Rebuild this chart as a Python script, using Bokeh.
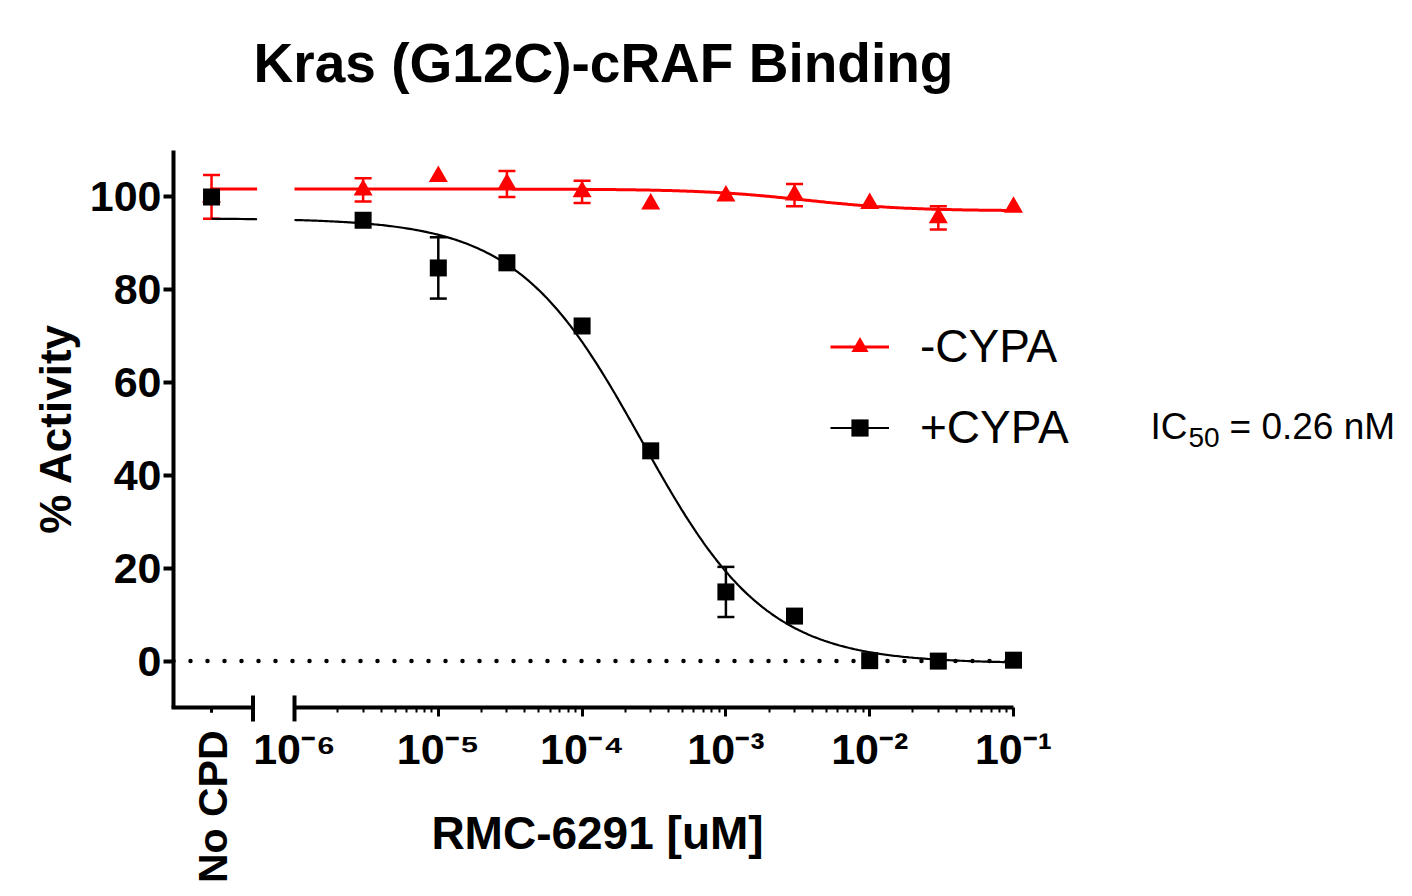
import numpy as np
from bokeh.plotting import figure
from bokeh.models import (FixedTicker, Whisker, TeeHead, ColumnDataSource,
                          Label, Legend, LegendItem)
from bokeh.embed import file_html
from bokeh.resources import INLINE

# ---------------- data ----------------
title_text = "Kras (G12C)-cRAF Binding"
x_label = "RMC-6291 [uM]"
y_label = "% Activity"
nocpd_label = "No CPD"

conc = [3e-6, 1e-5, 3e-5, 1e-4, 3e-4, 1e-3, 3e-3, 1e-2, 3e-2, 1e-1]
plus_cypa = [95.0, 84.7, 85.8, 72.2, 45.3, 14.9, 9.7, 0.1, 0.0, 0.2]
plus_err = [0.0, 6.6, 0.0, 0.0, 0.0, 5.4, 0.0, 0.0, 0.0, 0.0]
minus_cypa = [101.5, 104.4, 102.8, 101.1, 98.5, 100.2, 100.4, 98.6, 95.5, 97.8]
minus_err = [2.5, 0.0, 2.8, 2.4, 0.0, 0.0, 2.4, 0.0, 2.5, 0.0]
nocpd_plus = 100.0
nocpd_plus_err = 0.0
nocpd_minus = 100.0
nocpd_minus_err = 4.7

# four-parameter logistic fits
fit_plus = dict(top=95.4, bottom=-0.5, ic50=2.6e-4, hill=1.0)
fit_minus = dict(top=101.7, bottom=97.0, ic50=3.5e-3, hill=1.2)

x_ticks = [1e-6, 1e-5, 1e-4, 1e-3, 1e-2, 1e-1]
x_tick_labels = ["10\u207b\u2076", "10\u207b\u2075", "10\u207b\u2074",
                 "10\u207b\u00b3", "10\u207b\u00b2", "10\u207b\u00b9"]
y_ticks = [0, 20, 40, 60, 80, 100]
series_names = ["-CYPA", "+CYPA"]
ic50_text = ["IC", "50", "= 0.26 nM"]

# ---------------- layout constants ----------------
W, H = 1404, 888
RED = "#FF0000"
BLACK = "#000000"
FONT = "Liberation Sans"
X_RANGE = (10 ** -8.04451, 10 ** 1.71905)
Y_RANGE = (-48.99, 142.32)
Y_AXIS_POS = 10 ** -6.8415    # where the y axis crosses
NOCPD_POS = 10 ** -6.577      # plotting position of the "No CPD" group
BREAK_LEFT = 10 ** -6.2886    # end of the left axis segment
CURVE_STUB_END = 10 ** -6.26
Y_MIN, Y_MAX = -10, 110


def four_pl(x, top, bottom, ic50, hill):
    x = np.asarray(x, dtype=float)
    return bottom + (top - bottom) / (1.0 + (x / ic50) ** hill)


def sy(page_y):
    """screen y (from bottom of plot) for a given distance from the top"""
    return H - page_y


p = figure(width=W, height=H, x_axis_type="log", title=None,
           x_range=X_RANGE, y_range=Y_RANGE,
           output_backend="svg", toolbar_location=None,
           min_border=0, min_border_left=0, min_border_right=0,
           min_border_top=0, min_border_bottom=0)
p.grid.visible = False
p.outline_line_color = None
p.background_fill_color = "white"
p.border_fill_color = "white"

# title
p.add_layout(Label(x=603, y=sy(62), x_units="screen", y_units="screen",
                   text=title_text, text_align="center", text_baseline="middle",
                   text_font=FONT, text_font_size="55px", text_font_style="bold",
                   text_color=BLACK))

# y axis
ya = p.yaxis[0]
ya.fixed_location = Y_AXIS_POS
ya.bounds = (Y_MIN, Y_MAX)
ya.ticker = FixedTicker(ticks=y_ticks)
ya.major_label_text_font = FONT
ya.major_label_text_font_size = "43px"
ya.major_label_text_font_style = "bold"
ya.major_label_text_color = BLACK
ya.major_label_standoff = 2
ya.axis_line_width = 4
ya.major_tick_line_width = 4
ya.major_tick_out = 10
ya.major_tick_in = 0
ya.minor_tick_out = 0
ya.minor_tick_in = 0
ya.minor_tick_line_color = None

p.add_layout(Label(x=55, y=sy(428), x_units="screen", y_units="screen",
                   text=y_label, angle=np.pi / 2, text_align="center",
                   text_baseline="middle", text_font=FONT, text_font_size="44px",
                   text_font_style="bold", text_color=BLACK))

# x axis (log, with break)
xa = p.xaxis[0]
xa.fixed_location = Y_MIN
minor = [k * t for t in x_ticks[:-1] for k in range(2, 10)]
xa.ticker = FixedTicker(ticks=x_ticks, minor_ticks=minor)
xa.major_label_overrides = dict(zip(x_ticks, x_tick_labels))
xa.bounds = (x_ticks[0], x_ticks[-1])
xa.major_label_text_font = FONT
xa.major_label_text_font_size = "43px"
xa.major_label_text_font_style = "bold"
xa.major_label_text_color = BLACK
xa.major_label_standoff = 8
xa.axis_line_width = 4
xa.major_tick_line_width = 3
xa.major_tick_out = 9
xa.major_tick_in = 0
xa.minor_tick_line_width = 2
xa.minor_tick_out = 5
xa.minor_tick_in = 0

p.add_layout(Label(x=597, y=sy(832), x_units="screen", y_units="screen",
                   text=x_label, text_align="center", text_baseline="middle",
                   text_font=FONT, text_font_size="46px", text_font_style="bold",
                   text_color=BLACK))

# left axis stub for "No CPD", break caps and No CPD tick
p.segment(x0=[Y_AXIS_POS], y0=[Y_MIN], x1=[BREAK_LEFT], y1=[Y_MIN],
          line_color=BLACK, line_width=4, line_cap="square")
p.segment(x0=[BREAK_LEFT, x_ticks[0]], y0=[Y_MIN - 3.0] * 2,
          x1=[BREAK_LEFT, x_ticks[0]], y1=[Y_MIN + 2.6] * 2,
          line_color=BLACK, line_width=4)
p.segment(x0=[NOCPD_POS], y0=[Y_MIN], x1=[NOCPD_POS], y1=[Y_MIN - 1.1],
          line_color=BLACK, line_width=3)

p.add_layout(Label(x=NOCPD_POS, x_units="data", y=sy(730), y_units="screen",
                   x_offset=1, text=nocpd_label, angle=np.pi / 2, text_align="right",
                   text_baseline="middle", text_font=FONT,
                   text_font_size="41px", text_font_style="bold",
                   text_color=BLACK))

# dotted zero line
p.segment(x0=[Y_AXIS_POS], y0=[0], x1=[x_ticks[-1]], y1=[0], line_color=BLACK,
          line_width=4.5, line_dash="0 17", line_cap="round")

# error bars
def add_whisker(xs, ys, errs, color):
    xs_e = [x for x, e in zip(xs, errs) if e > 0]
    ys_e = [y for y, e in zip(ys, errs) if e > 0]
    es = [e for e in errs if e > 0]
    src = ColumnDataSource(dict(x=xs_e, upper=[y + e for y, e in zip(ys_e, es)],
                                lower=[y - e for y, e in zip(ys_e, es)]))
    w = Whisker(source=src, base="x", upper="upper", lower="lower",
                dimension="height", line_color=color, line_width=2.5,
                upper_head=TeeHead(size=17, line_color=color, line_width=2.5),
                lower_head=TeeHead(size=17, line_color=color, line_width=2.5),
                level="underlay")
    p.add_layout(w)

all_x = [NOCPD_POS] + conc
add_whisker(all_x, [nocpd_minus] + minus_cypa, [nocpd_minus_err] + minus_err, RED)
add_whisker(all_x, [nocpd_plus] + plus_cypa, [nocpd_plus_err] + plus_err, BLACK)

# fitted curves (two pieces because of the axis break)
xs_stub = np.logspace(np.log10(NOCPD_POS), np.log10(CURVE_STUB_END), 10)
xs_main = np.logspace(np.log10(x_ticks[0]), np.log10(x_ticks[-1]), 400)

red_lines = []
blk_lines = []
for xs in (xs_stub, xs_main):
    red_lines.append(p.line(xs, four_pl(xs, **fit_minus), line_color=RED, line_width=3))
for xs in (xs_stub, xs_main):
    blk_lines.append(p.line(xs, four_pl(xs, **fit_plus), line_color=BLACK, line_width=2.2))

red_pts = p.scatter(all_x, [nocpd_minus] + minus_cypa, marker="triangle", size=19,
                    fill_color=RED, line_color=RED, line_width=0)
blk_pts = p.scatter(all_x, [nocpd_plus] + plus_cypa, marker="square", size=17,
                    fill_color=BLACK, line_color=BLACK, line_width=0)

legend = Legend(items=[LegendItem(label=series_names[0], renderers=[red_lines[1], red_pts]),
                       LegendItem(label=series_names[1], renderers=[blk_lines[1], blk_pts])],
                location=(830, sy(454)), label_text_font=FONT, label_text_font_size="46px",
                label_text_color=BLACK, glyph_width=59, glyph_height=43,
                label_height=54, label_standoff=31, spacing=27, padding=0, margin=0,
                border_line_color=None, background_fill_alpha=0)
p.add_layout(legend)

# IC50 annotation
for txt, xx, yy, fs in [(ic50_text[0], 1150, 426, "37px"),
                        (ic50_text[1], 1188, 437, "28px"),
                        (ic50_text[2], 1229, 426, "37px")]:
    p.add_layout(Label(x=xx, y=sy(yy), x_units="screen", y_units="screen", text=txt,
                       text_font=FONT, text_font_size=fs, text_color=BLACK,
                       text_baseline="middle"))

open("out.html", "w").write(file_html(p, INLINE))
